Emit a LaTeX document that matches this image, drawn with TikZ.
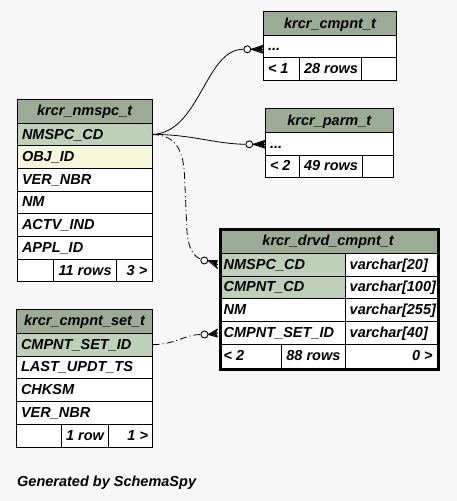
\documentclass[tikz,border=0pt]{standalone}
\usepackage{fontspec}
\setmainfont{Liberation Sans}
\usetikzlibrary{calc}
\definecolor{bg}{HTML}{F7F7F7}
\definecolor{hdr}{HTML}{9BAB96}
\definecolor{keyc}{HTML}{BED1B8}
\definecolor{idx}{HTML}{F4F7DA}
\newcommand\tcell[8]{%
  \node[cellbox, fill=#6, minimum width={(#4-#2)*1pt}, minimum height={(#5-#3)*1pt}] (#1) at (#2,#3) {};
  \node[txt, anchor=#7] (#1-t) at (#1.#7) {#8};}
\newcommand\crowend[2]{%
  \fill ($(#1.east)+(1.5,0)$) -- ($(#2)+(0,-3.5)$) -- ($(#2)+(-1.5,0)$) -- ($(#2)+(0,3.5)$) -- cycle;
  \draw[crowline] (#1.east) -- ($(#2)+(0,-4)$);
  \draw[crowline] (#1.east) -- (#2);
  \draw[crowline] (#1.east) -- ($(#2)+(0,4)$);}
\tikzset{
  cellbox/.style={draw, line width=1pt, inner sep=0pt, outer sep=0pt, anchor=north west},
  txt/.style={font=\fontsize{14.5}{17}\selectfont\bfseries\itshape, inner xsep=4.5pt, inner ysep=0pt, text height=11.5pt, text depth=2.5pt},
  rel/.style={line width=0.8pt},
  relopt/.style={rel, dash pattern=on 7pt off 3pt on 1pt off 3pt},
  zc/.style={circle, draw, line width=0.9pt, fill=bg, minimum size=7pt, inner sep=0pt},
  crowline/.style={line width=1pt},
  thickbox/.style={draw, line width=2.6pt}
}
\begin{document}
\begin{tikzpicture}[x=1pt,y=-1pt]
\fill[bg] (0,0) rectangle (457,501);
\useasboundingbox (0,0) rectangle (457,501);

% krcr_nmspc_t
\tcell{nmh}{17.3}{99.5}{152}{123.3}{hdr}{center}{krcr\_nmspc\_t}
\tcell{nmkey}{17.3}{123.3}{152}{145.7}{keyc}{west}{NMSPC\_CD}
\tcell{nmobj}{17.3}{145.7}{152}{168.3}{idx}{west}{OBJ\_ID}
\tcell{nmver}{17.3}{168.3}{152}{191}{white}{west}{VER\_NBR}
\tcell{nmnm}{17.3}{191}{152}{213.7}{white}{west}{NM}
\tcell{nmactv}{17.3}{213.7}{152}{236.3}{white}{west}{ACTV\_IND}
\tcell{nmappl}{17.3}{236.3}{152}{259.3}{white}{west}{APPL\_ID}
\tcell{nmf1}{17.3}{259.3}{53.3}{281.7}{white}{west}{}
\tcell{nmf2}{53.3}{259.3}{116.3}{281.7}{white}{east}{11 rows}
\tcell{nmf3}{116.3}{259.3}{152}{281.7}{white}{east}{3 >}

% krcr_cmpnt_t
\tcell{cph}{263.3}{11.7}{396.7}{35.3}{hdr}{center}{krcr\_cmpnt\_t}
\tcell{cprow}{263.3}{35.3}{396.7}{57.3}{white}{west}{...}
\tcell{cpf1}{263.3}{57.3}{299.3}{80.3}{white}{west}{< 1}
\tcell{cpf2}{299.3}{57.3}{361.7}{80.3}{white}{west}{28 rows}
\tcell{cpf3}{361.7}{57.3}{396.7}{80.3}{white}{west}{}

% krcr_parm_t
\tcell{pah}{265.3}{108.3}{393.3}{132.7}{hdr}{center}{krcr\_parm\_t}
\tcell{parow}{265.3}{132.7}{393.3}{155}{white}{west}{...}
\tcell{paf1}{265.3}{155}{299.3}{177.3}{white}{west}{< 2}
\tcell{paf2}{299.3}{155}{362}{177.3}{white}{west}{49 rows}
\tcell{paf3}{362}{155}{393.3}{177.3}{white}{west}{}

% krcr_drvd_cmpnt_t
\tcell{dvh}{219}{228}{437.3}{253.3}{hdr}{center}{krcr\_drvd\_cmpnt\_t}
\tcell{dvnm}{219}{253.3}{345}{276}{keyc}{west}{NMSPC\_CD}
\tcell{dvnmt}{345}{253.3}{437.3}{276}{white}{west}{varchar[20]}
\tcell{dvcp}{219}{276}{345}{298.7}{keyc}{west}{CMPNT\_CD}
\tcell{dvcpt}{345}{276}{437.3}{298.7}{white}{west}{varchar[100]}
\tcell{dvname}{219}{298.7}{345}{321.3}{white}{west}{NM}
\tcell{dvnamet}{345}{298.7}{437.3}{321.3}{white}{west}{varchar[255]}
\tcell{dvset}{219}{321.3}{345}{344}{white}{west}{CMPNT\_SET\_ID}
\tcell{dvsett}{345}{321.3}{437.3}{344}{white}{west}{varchar[40]}
\tcell{dvf1}{219}{344}{281.7}{368}{white}{west}{< 2}
\tcell{dvf2}{281.7}{344}{345}{368}{white}{west}{88 rows}
\tcell{dvf3}{345}{344}{437.3}{368}{white}{east}{0 >}
\node[thickbox, inner sep=0pt, minimum width=218.3pt, minimum height=140pt, anchor=north west] (dvbox) at (219,228) {};

% krcr_cmpnt_set_t
\tcell{csh}{16.3}{309.3}{152.7}{333.3}{hdr}{center}{krcr\_cmpnt\_set\_t}
\tcell{cskey}{16.3}{333.3}{152.7}{356}{keyc}{west}{CMPNT\_SET\_ID}
\tcell{cslast}{16.3}{356}{152.7}{378.7}{white}{west}{LAST\_UPDT\_TS}
\tcell{cschk}{16.3}{378.7}{152.7}{401.3}{white}{west}{CHKSM}
\tcell{csver}{16.3}{401.3}{152.7}{424}{white}{west}{VER\_NBR}
\tcell{csf1}{16.3}{424}{61.3}{447}{white}{west}{}
\tcell{csf2}{61.3}{424}{108.7}{447}{white}{east}{1 row}
\tcell{csf3}{108.7}{424}{152.7}{447}{white}{east}{1 >}

% relationship ends
\node[zc] (c1) at (247.3,49.3) {};
\node[zc] (c2) at (249.3,144.3) {};
\node[zc] (c3) at (204.3,260.5) {};
\node[zc] (c4) at (204.5,334.5) {};
\coordinate (e1) at (c1 -| cprow.west);
\coordinate (e2) at (c2 -| parow.west);
\coordinate (e3) at ($(dvnm.west)+(-1.3,0)$);
\coordinate (e4) at ($(c4 -| dvset.west)+(-1.3,-1.5)$);

\draw[rel] (nmkey.east) .. controls (200,133) and (205,49) .. (c1);
\draw[rel] (nmkey.east) .. controls (190,134) and (215,144) .. (c2);
\draw[relopt] (nmkey.east) .. controls (172,135) and (183,145) .. (184.5,175) -- (187,232) .. controls (188.5,248) and (193,256) .. (c3);
\draw[relopt] (cskey.east) .. controls (175,344.5) and (185,334.5) .. (c4);
\crowend{c1}{e1}
\crowend{c2}{e2}
\crowend{c3}{e3}
\crowend{c4}{e4}

\node[txt, anchor=base west, inner xsep=0pt] (gen) at (17,486) {Generated by SchemaSpy};
\end{tikzpicture}
\end{document}
